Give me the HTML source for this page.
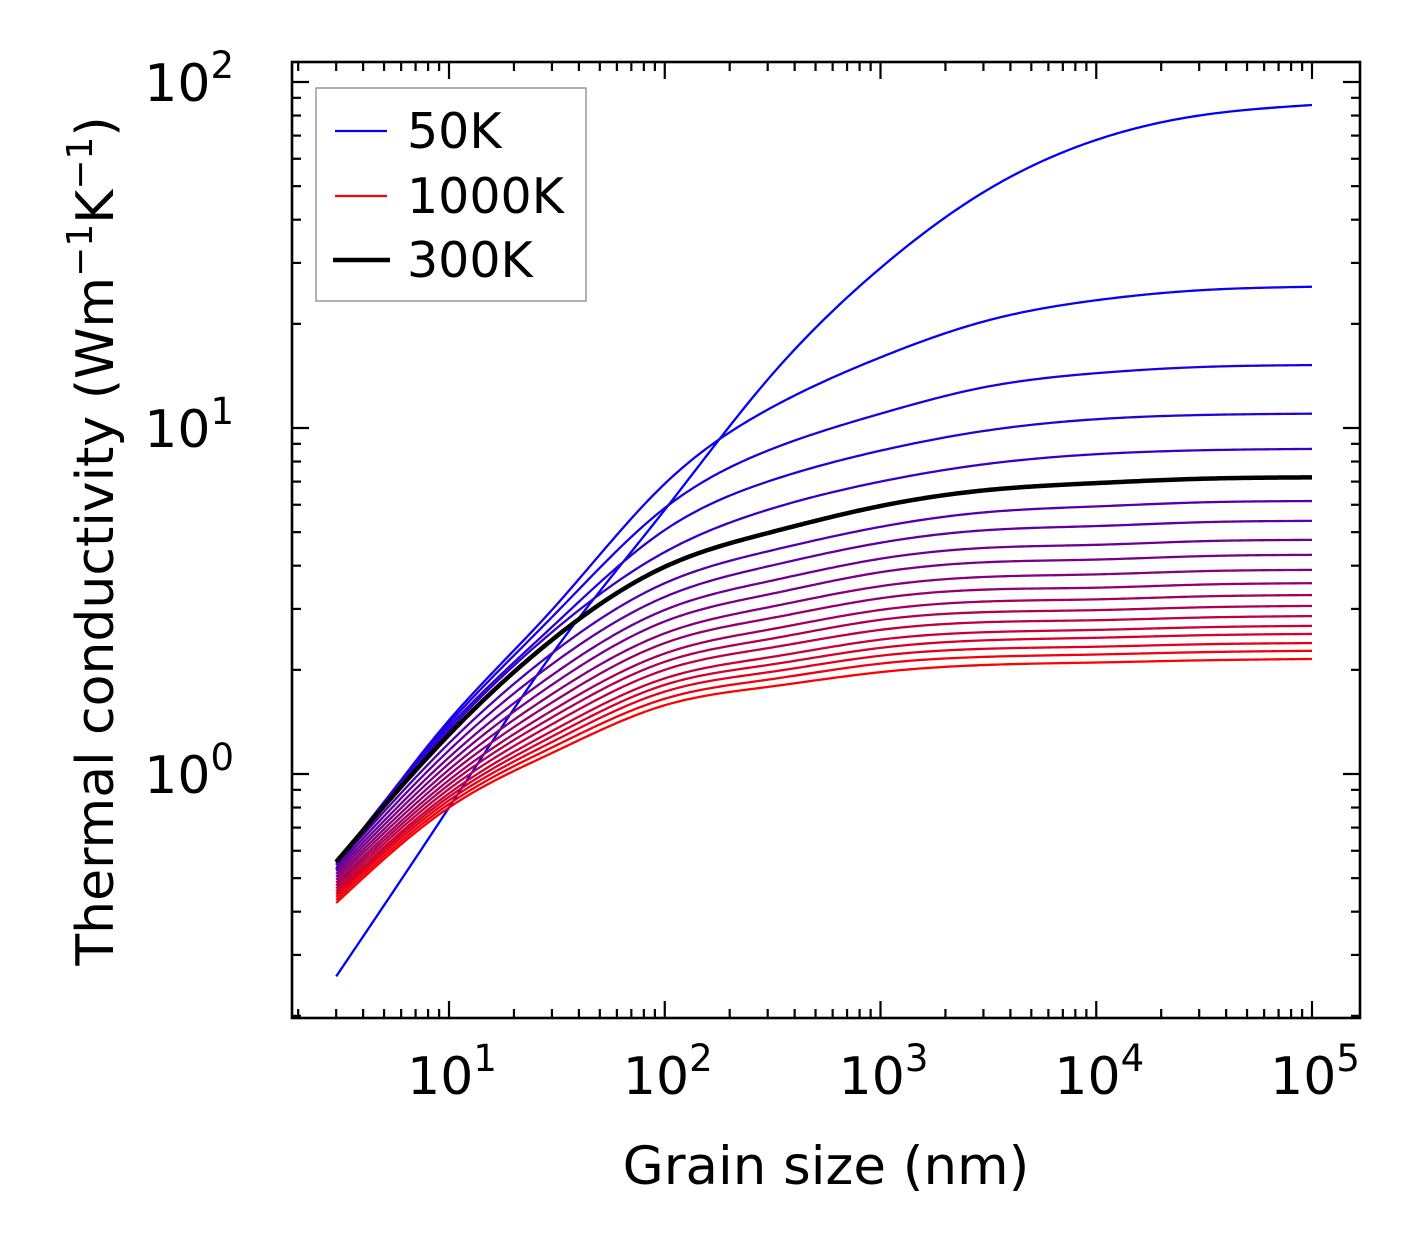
<!DOCTYPE html>
<html><head><meta charset="utf-8"><style>
html,body{margin:0;padding:0;background:#fff;}
svg{display:block;font-family:"DejaVu Sans","Liberation Sans",sans-serif;}
</style></head><body>
<svg id="chart" width="1421" height="1257" viewBox="0 0 1421 1257" xmlns="http://www.w3.org/2000/svg">
<rect width="1421" height="1257" fill="#fff"/>
<g id="curves"></g>
<g id="axes"></g>
<text x="826" y="1184" font-size="53" text-anchor="middle">Grain size (nm)</text>
<text transform="translate(113,541) rotate(-90)" font-size="52" text-anchor="middle">Thermal conductivity (Wm<tspan dy="-21" font-size="36">−1</tspan><tspan dy="21">K</tspan><tspan dy="-21" font-size="36">−1</tspan><tspan dy="21">)</tspan></text>
<g>
<rect x="316" y="88" width="270" height="213" fill="#fff" stroke="#999" stroke-width="1.5"/>
<line x1="335" y1="131" x2="387" y2="131" stroke="#0000ff" stroke-width="2.3"/>
<text x="407" y="148" font-size="49">50K</text>
<line x1="335" y1="196" x2="387" y2="196" stroke="#ff0000" stroke-width="2.3"/>
<text x="407" y="213" font-size="49">1000K</text>
<line x1="333" y1="260" x2="390" y2="260" stroke="#000" stroke-width="4.5"/>
<text x="407" y="277" font-size="49">300K</text>
</g>
</svg>
<script>
const grainSizes = [3, 10, 30, 100, 300, 1000, 3000, 10000, 30000, 100000];
const temperatures = [50,100,150,200,250,300,350,400,450,500,550,600,650,700,750,800,850,900,950,1000];
const k50 = [0.26,0.80,2.22,5.8,13.8,29,48,68,80,85.8];
const k100 = [0.53,1.43,2.98,6.9,11.3,16.0,20.3,23.4,25,25.6];
const k150 = [0.55,1.40,2.84,5.87,8.6,11.0,13.1,14.4,15,15.2];
const k200 = [0.555,1.37,2.66,5.07,7.0,8.6,9.8,10.6,10.9,11.0];
const k250 = [0.557,1.34,2.57,4.38,5.8,7.0,7.85,8.4,8.62,8.7];
const k300 = [0.557,1.30,2.44,3.97,4.97,5.95,6.6,6.93,7.13,7.2];
const k350 = [0.545,1.227,2.232,3.56,4.40,5.18,5.70,5.934,6.094,6.15];
const k400 = [0.535,1.171,2.076,3.25,3.98,4.66,5.06,5.207,5.339,5.39];
const k450 = [0.525,1.117,1.930,2.98,3.60,4.19,4.50,4.596,4.706,4.75];
const k500 = [0.515,1.072,1.811,2.76,3.30,3.83,4.09,4.166,4.260,4.30];
const k550 = [0.505,1.030,1.701,2.55,3.03,3.49,3.71,3.775,3.855,3.89];
const k600 = [0.495,0.994,1.609,2.39,2.81,3.22,3.41,3.455,3.526,3.56];
const k650 = [0.485,0.960,1.525,2.23,2.61,2.98,3.15,3.197,3.259,3.29];
const k700 = [0.476,0.932,1.457,2.11,2.45,2.79,2.935,2.976,3.031,3.06];
const k750 = [0.467,0.905,1.392,2.00,2.31,2.61,2.745,2.783,2.832,2.86];
const k800 = [0.458,0.879,1.331,1.89,2.17,2.445,2.568,2.609,2.654,2.68];
const k850 = [0.450,0.859,1.283,1.81,2.065,2.315,2.433,2.476,2.517,2.54];
const k900 = [0.442,0.839,1.237,1.73,1.967,2.197,2.30,2.333,2.370,2.39];
const k950 = [0.433,0.819,1.193,1.65,1.873,2.085,2.18,2.215,2.249,2.27];
const k1000 = [0.424,0.80,1.15,1.58,1.785,1.97,2.065,2.10,2.13,2.15];
const series = [k50,k100,k150,k200,k250,k300,k350,k400,k450,k500,k550,k600,k650,k700,k750,k800,k850,k900,k950,k1000];
const xTickLabels = ["1","2","3","4","5"];
const yTickLabels = ["0","1","2"];

const NS = "http://www.w3.org/2000/svg";
const L = 292, R = 1360, T = 62, B = 1018;
function xs(v){ return 449 + (Math.log10(v) - 1) * 215.75; }
function ys(v){ return 774 - Math.log10(v) * 346; }

function spline(xa, ya){
  const n = xa.length, h = [], al = [], l = new Array(n).fill(1), mu = new Array(n).fill(0), z = new Array(n).fill(0), c = new Array(n).fill(0), b = [], d = [];
  for (let i=0;i<n-1;i++) h.push(xa[i+1]-xa[i]);
  for (let i=1;i<n-1;i++) al[i] = 3/h[i]*(ya[i+1]-ya[i]) - 3/h[i-1]*(ya[i]-ya[i-1]);
  for (let i=1;i<n-1;i++){
    l[i] = 2*(xa[i+1]-xa[i-1]) - h[i-1]*mu[i-1];
    mu[i] = h[i]/l[i];
    z[i] = (al[i]-h[i-1]*z[i-1])/l[i];
  }
  for (let j=n-2;j>=0;j--){
    c[j] = z[j] - mu[j]*c[j+1];
    b[j] = (ya[j+1]-ya[j])/h[j] - h[j]*(c[j+1]+2*c[j])/3;
    d[j] = (c[j+1]-c[j])/(3*h[j]);
  }
  return function(x){
    let i=0; while(i<n-2 && x>xa[i+1]) i++;
    const t = x-xa[i];
    return ya[i]+b[i]*t+c[i]*t*t+d[i]*t*t*t;
  };
}

const cg = document.getElementById('curves');
const lx = grainSizes.map(v=>Math.log10(v));
const order = series.map((s,i)=>i).filter(i=>temperatures[i]!==300);
order.push(temperatures.indexOf(300));
order.forEach(i=>{
  const f = spline(lx, series[i].map(v=>Math.log10(v)));
  let d = "";
  const a = lx[0], b = lx[lx.length-1];
  for (let j=0;j<=300;j++){
    const x = a + (b-a)*j/300;
    const y = Math.pow(10, f(x));
    d += (j?"L":"M") + xs(Math.pow(10,x)).toFixed(2) + " " + ys(y).toFixed(2);
  }
  const p = document.createElementNS(NS,'path');
  
  
  const frac = i/(temperatures.length-1);
  const is300 = temperatures[i]===300;
  p.setAttribute('d', d);
  p.setAttribute('fill','none');
  p.setAttribute('stroke', is300 ? '#000' : `rgb(${Math.round(255*frac)},0,${Math.round(255*(1-frac))})`);
  p.setAttribute('stroke-width', is300 ? 4.5 : 2.3);
  cg.appendChild(p);
});

const ag = document.getElementById('axes');
function line(x1,y1,x2,y2,w){
  const l = document.createElementNS(NS,'line');
  l.setAttribute('x1',x1); l.setAttribute('y1',y1); l.setAttribute('x2',x2); l.setAttribute('y2',y2);
  l.setAttribute('stroke','#000'); l.setAttribute('stroke-width',w);
  ag.appendChild(l); return l;
}
for (let e=0;e<=5;e++){
  for (let k=1;k<10;k++){
    const v = k*Math.pow(10,e), x = xs(v);
    if (x<L+1 || x>R-1) continue;
    const len = k===1 ? 17 : 9;
    const t1 = line(x,B,x,B-len,2.2);
    
    
    const t2 = line(x,T,x,T+len,2.2);
    
    
  }
}
xTickLabels.forEach(lab=>{
  const x = xs(Math.pow(10, +lab));
  const t = document.createElementNS(NS,'text');
  
  
  t.setAttribute('x', x+3); t.setAttribute('y', 1094);
  t.setAttribute('font-size','52'); t.setAttribute('text-anchor','middle');
  t.innerHTML = '10<tspan dy="-23" font-size="37">'+lab+'</tspan>';
  ag.appendChild(t);
});
for (let e=-1;e<=2;e++){
  for (let k=1;k<10;k++){
    const v = k*Math.pow(10,e), y = ys(v);
    if (y<T+1 || y>B-1) continue;
    const len = k===1 ? 17 : 9;
    const t1 = line(L,y,L+len,y,2.2);
    
    
    const t2 = line(R,y,R-len,y,2.2);
    
    
  }
}
yTickLabels.forEach(lab=>{
  const y = ys(Math.pow(10, +lab));
  const t = document.createElementNS(NS,'text');
  
  
  t.setAttribute('x', 234); t.setAttribute('y', y+19);
  t.setAttribute('font-size','52'); t.setAttribute('text-anchor','end');
  t.innerHTML = '10<tspan dy="-23" font-size="37">'+lab+'</tspan>';
  ag.appendChild(t);
});
const fr = document.createElementNS(NS,'rect');


fr.setAttribute('x',L); fr.setAttribute('y',T); fr.setAttribute('width',R-L); fr.setAttribute('height',B-T);
fr.setAttribute('fill','none'); fr.setAttribute('stroke','#000'); fr.setAttribute('stroke-width','2.6');
ag.appendChild(fr);
</script>
</body></html>
